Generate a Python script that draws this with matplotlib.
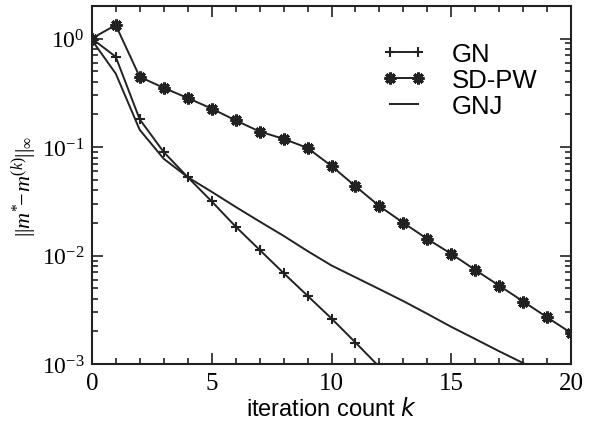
import numpy as np
import matplotlib
matplotlib.use("Agg")
import matplotlib.pyplot as plt
from matplotlib.pyplot import MultipleLocator

# data
k_sd = list(range(0, 21))
sd_pw = [1.0, 1.33, 0.443, 0.351, 0.283, 0.226, 0.176, 0.139, 0.119, 0.098,
         0.0668, 0.0435, 0.0285, 0.020, 0.0142, 0.01035, 0.00736, 0.00527,
         0.00377, 0.00269, 0.00193]

k_gn = list(range(0, 13))
gn = [1.0, 0.678, 0.18, 0.09, 0.0528, 0.0316, 0.0185, 0.0113, 0.0069,
      0.00426, 0.00263, 0.00158, 0.00094]

k_gnj = list(range(0, 20))
gnj = [0.97, 0.475, 0.144, 0.078, 0.0528, 0.0387, 0.0281, 0.0206, 0.0152,
       0.011, 0.0081, 0.0063, 0.0049, 0.0038, 0.0029, 0.0022, 0.0017,
       0.00131, 0.00102, 0.00078]

plt.rcParams['font.family'] = ['Liberation Serif', 'DejaVu Serif']
plt.rcParams['mathtext.fontset'] = 'custom'
plt.rcParams['mathtext.rm'] = 'Liberation Serif'
plt.rcParams['mathtext.it'] = 'Liberation Serif:italic'

fig = plt.figure(figsize=(5.92, 4.27), dpi=100)
ax = fig.add_axes([0.155, 0.145, 0.81, 0.839])

line1, = ax.plot(k_gn, gn, color='#222222', lw=1.4, marker='+', ms=7, mew=1.5)
line2, = ax.plot(k_sd, sd_pw, color='#222222', lw=1.4, marker=(8, 2, 0), ms=8.5, mew=2.2)
line3, = ax.plot(k_gnj, gnj, color='#222222', lw=1.4)

ax.set_yscale('log')
ax.set_xlim(0, 20)
ax.set_ylim(1e-3, 2.0)
ax.xaxis.set_major_locator(MultipleLocator(5))
ax.xaxis.set_minor_locator(MultipleLocator(1))

ax.tick_params(which='both', direction='in', top=True, right=True, width=1.2, color='#222222')
ax.tick_params(which='major', length=8)
ax.tick_params(which='minor', length=4.5)
ax.tick_params(axis='x', which='major', labelsize=18, pad=6)
ax.tick_params(axis='y', which='major', labelsize=17, pad=5)
for sp in ax.spines.values():
    sp.set_linewidth(1.5)
    sp.set_color('#222222')

ax.set_xlabel(r'iteration count $\mathit{k}$', fontsize=17, family='Liberation Sans', labelpad=2)
ax.xaxis.label.set_math_fontfamily('dejavusans')
ax.set_ylabel(r'$||m^{*}\!\!-\!m^{(k)}||_{\infty}$', fontsize=16, labelpad=2)

leg = ax.legend([line1, line2, line3], ['GN', 'SD-PW', 'GNJ'], loc='upper right',
                bbox_to_anchor=(0.95, 0.927), borderaxespad=0, frameon=False, numpoints=2,
                prop={'family': 'Liberation Sans', 'size': 18.5}, handlelength=1.7,
                labelspacing=0.08, handletextpad=1.0)

fig.savefig('out.png', dpi=100)
